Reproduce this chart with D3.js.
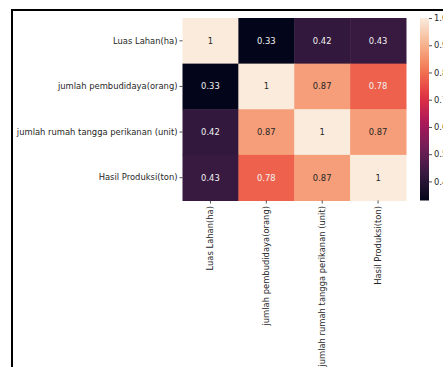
<!DOCTYPE html>
<html><head><meta charset="utf-8">
<script src="https://cdn.jsdelivr.net/npm/d3@7"></script>
<style>body{margin:0;background:#fff;overflow:hidden}svg{display:block}text{font-family:"DejaVu Sans",sans-serif}</style>
</head><body>
<script>
const categories = ["Luas Lahan(ha)", "jumlah pembudidaya(orang)", "jumlah rumah tangga perikanan (unit)", "Hasil Produksi(ton)"];
const corrValues = [
  [1, 0.33, 0.42, 0.43],
  [0.33, 1, 0.87, 0.78],
  [0.42, 0.87, 1, 0.87],
  [0.43, 0.78, 0.87, 1]
];
const colorbarTicks = [0.4, 0.5, 0.6, 0.7, 0.8, 0.9, 1.0];
const rocketStops = ["#03051a", "#35193e", "#701f57", "#ad1759", "#e13342", "#f37651", "#f6b48f", "#faebdd"];

(function () {
const W = 443, H = 367;
const fs = 8.4;
const svg = d3.select("body").append("svg").attr("width", W).attr("height", H);

// frame
svg.append("rect").attr("x", 12).attr("y", 10).attr("width", 500).attr("height", 500)
  .attr("fill", "none").attr("stroke", "#000").attr("stroke-width", 2);

const mLeft = 182.5, mTop = 18, mRight = 406, mBottom = 200.5;
const x = d3.scaleBand().domain(categories).range([mLeft, mRight]);
const y = d3.scaleBand().domain(categories).range([mTop, mBottom]);

const vmin = 0.33, vmax = 1;
const rocket = d3.scaleLinear().domain(rocketStops.map((d, i) => i / (rocketStops.length - 1))).range(rocketStops).interpolate(d3.interpolateRgb);
const color = v => rocket((v - vmin) / (vmax - vmin));

const cells = [];
corrValues.forEach((row, i) => row.forEach((v, j) => cells.push({r: categories[i], c: categories[j], v})));

svg.append("g").selectAll("rect").data(cells).join("rect")
  .attr("x", d => x(d.c)).attr("y", d => y(d.r))
  .attr("width", x.bandwidth() + 0.5).attr("height", y.bandwidth() + 0.5)
  .attr("fill", d => color(d.v));

function lum(c) {
  const rgb = d3.rgb(c);
  const f = u => { u /= 255; return u <= 0.03928 ? u / 12.92 : Math.pow((u + 0.055) / 1.055, 2.4); };
  return 0.2126 * f(rgb.r) + 0.7152 * f(rgb.g) + 0.0722 * f(rgb.b);
}

svg.append("g").selectAll("text").data(cells).join("text")
  .attr("x", d => x(d.c) + x.bandwidth() / 2).attr("y", d => y(d.r) + y.bandwidth() / 2)
  .attr("text-anchor", "middle").attr("dominant-baseline", "central")
  .attr("font-size", fs)
  .attr("fill", d => lum(color(d.v)) > 0.408 ? "#262626" : "#f2f2f2")
  .text(d => d3.format("")(d.v));

// y axis
const yAxis = svg.append("g").attr("transform", `translate(${mLeft},0)`)
  .call(d3.axisLeft(y).tickSize(3).tickPadding(2));
yAxis.select(".domain").remove();
yAxis.selectAll("text").attr("font-size", fs).attr("fill", "#262626").attr("font-family", "DejaVu Sans");
yAxis.selectAll("line").attr("stroke", "#262626").attr("stroke-width", 0.8);

// x axis
const xAxis = svg.append("g").attr("transform", `translate(0,${mBottom})`)
  .call(d3.axisBottom(x).tickSize(3).tickPadding(2));
xAxis.select(".domain").remove();
xAxis.selectAll("line").attr("stroke", "#262626").attr("stroke-width", 0.8);
xAxis.selectAll("text").attr("font-size", fs).attr("fill", "#262626").attr("font-family", "DejaVu Sans")
  .attr("transform", "rotate(-90)").attr("text-anchor", "end").attr("dy", "0.32em").attr("x", -5.5).attr("y", 0);

// colorbar
const cbX = 420, cbW = 9;
const cy = d3.scaleLinear().domain([vmin, vmax]).range([mBottom, mTop]);
const defs = svg.append("defs");
const grad = defs.append("linearGradient").attr("id", "cb").attr("x1", 0).attr("y1", 1).attr("x2", 0).attr("y2", 0);
d3.range(0, 1.0001, 0.05).forEach(t => grad.append("stop").attr("offset", t).attr("stop-color", rocket(t)));
svg.append("rect").attr("x", cbX).attr("y", mTop).attr("width", cbW).attr("height", mBottom - mTop).attr("fill", "url(#cb)");
const cbAxis = svg.append("g").attr("transform", `translate(${cbX + cbW},0)`)
  .call(d3.axisRight(cy).tickValues(colorbarTicks).tickFormat(d3.format(".1f")).tickSize(3).tickPadding(2));
cbAxis.select(".domain").remove();
cbAxis.selectAll("line").attr("stroke", "#262626").attr("stroke-width", 0.8);
cbAxis.selectAll("text").attr("font-size", fs).attr("fill", "#262626").attr("font-family", "DejaVu Sans");
})();
</script>
</body></html>
